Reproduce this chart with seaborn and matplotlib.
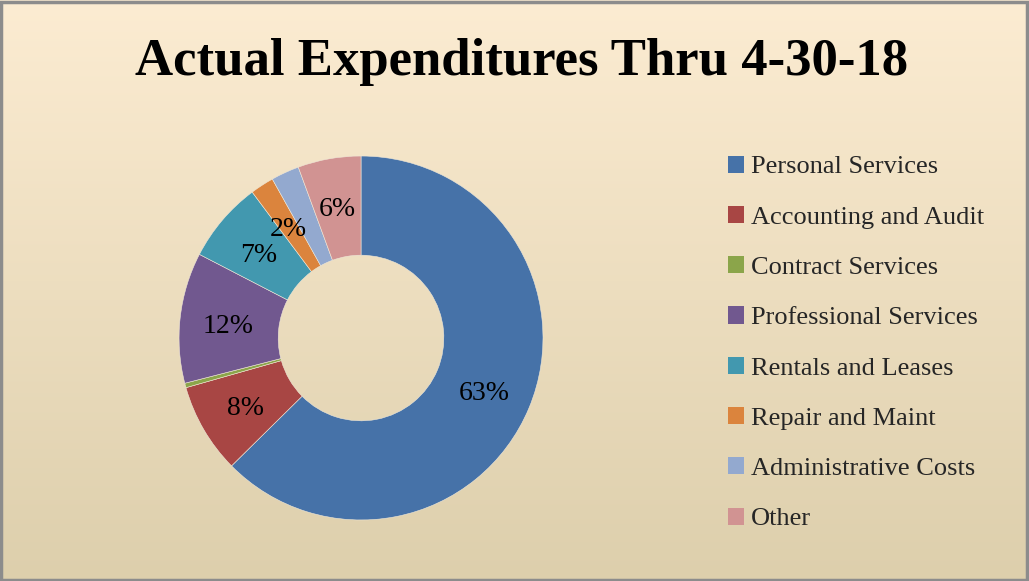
import numpy as np
import seaborn as sns
import matplotlib.pyplot as plt
from matplotlib.patches import Patch, Rectangle

categories = ["Personal Services", "Accounting and Audit", "Contract Services",
              "Professional Services", "Rentals and Leases", "Repair and Maint",
              "Administrative Costs", "Other"]
shares = [62.6, 8.0, 0.4, 11.6, 7.2, 2.1, 2.5, 5.6]
show_label = [True, True, False, True, True, True, False, True]
colors = ["#4672A8", "#A84644", "#8BA54A", "#71588F",
          "#4298AF", "#DB843D", "#93A9CF", "#D19392"]

sns.set_theme(style="white")
plt.rcParams["font.family"] = ["Liberation Serif", "DejaVu Serif"]
palette = sns.color_palette(colors)

fig = plt.figure(figsize=(10.29, 5.81), dpi=100)

# background gradient, light cream at top to tan at bottom
bg = fig.add_axes([0, 0, 1, 1], zorder=-2)
top = np.array([252, 236, 210]) / 255
bottom = np.array([221, 207, 172]) / 255
t = np.linspace(0, 1, 256)[:, None, None]
grad = top * (1 - t) + bottom * t
grad = np.repeat(grad, 2, axis=1)
bg.imshow(grad, aspect="auto", extent=[0, 1, 0, 1])
bg.add_patch(Rectangle((0.001, 0.001), 0.997, 0.996, fill=False,
                       edgecolor="#8c8c8c", linewidth=2.5, transform=bg.transAxes))
bg.set_axis_off()

ax = fig.add_axes([0.174, 0.105, 0.3537, 0.6265])
wedges, _ = ax.pie(shares, colors=palette, startangle=90, counterclock=False,
                   radius=1, wedgeprops=dict(width=0.545, edgecolor="#f0e8d8", linewidth=0.4))
total = sum(shares)
for w, v, show in zip(wedges, shares, show_label):
    if not show:
        continue
    ang = np.deg2rad((w.theta1 + w.theta2) / 2)
    r = 0.735
    ax.text(r * np.cos(ang), r * np.sin(ang) - 0.02, f"{round(v / total * 100):.0f}%",
            ha="center", va="center", fontsize=20, color="black")
ax.set_xlim(-1, 1)
ax.set_ylim(-1, 1)
ax.set_aspect("equal")
ax.set_axis_off()

fig.text(0.507, 0.893, "Actual Expenditures Thru 4-30-18", ha="center", va="center",
         fontsize=38, fontweight="bold", color="black")

handles = [Patch(facecolor=c, edgecolor="none") for c in palette]
fig.legend(handles, categories, loc="upper left", bbox_to_anchor=(0.684, 0.773),
           frameon=False, fontsize=19, handlelength=0.62, handleheight=0.62,
           handletextpad=0.27, labelspacing=1.04)

fig.savefig("out.png", dpi=100)
